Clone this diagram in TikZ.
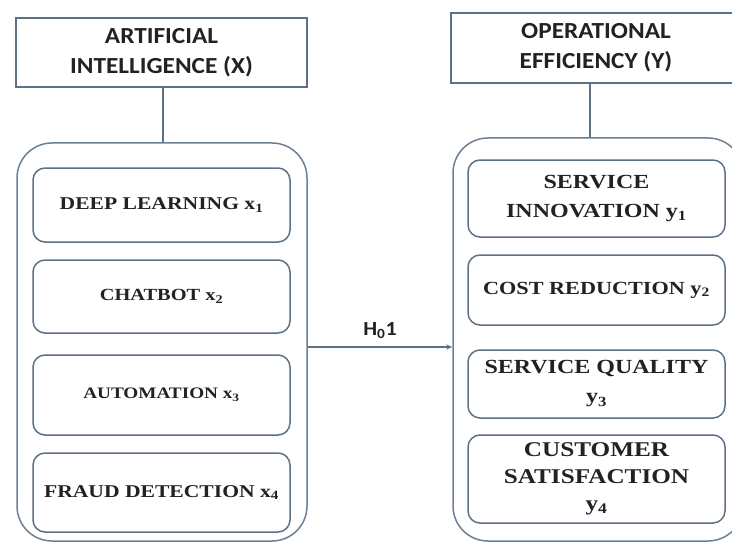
\documentclass[tikz,border=0pt]{standalone}
\usepackage{fontspec}
\usetikzlibrary{arrows.meta}
\newfontfamily\titlefont{Carlito}[FakeStretch=1.1]
\newfontfamily\boxfont{Liberation Serif}[FakeStretch=1.2]
\definecolor{edge}{HTML}{5E7184}
\definecolor{outeredge}{HTML}{6C8196}
\definecolor{ink}{HTML}{222222}
\tikzset{
  titlebox/.style={draw=edge, line width=1.6pt, fill=white, rectangle, inner sep=0pt,
    align=center, text=ink, font=\titlefont\bfseries\fontsize{23}{30}\selectfont},
  outerbox/.style={draw=outeredge, line width=1.5pt, rectangle, rounded corners=35pt, inner sep=0pt},
  itembox/.style={draw=edge, line width=1.5pt, fill=white, rectangle, rounded corners=12pt, inner sep=0pt,
    align=center, text=ink},
  conn/.style={draw=edge, line width=1.5pt},
}
\newcommand{\bx}[2]{\boxfont\bfseries\fontsize{#1}{#2}\selectfont}
\begin{document}
\begin{tikzpicture}[x=1pt,y=-1pt]
\clip (0,0) rectangle (732,543);
\useasboundingbox (0,0) rectangle (732,543);
\fill[white] (0,0) rectangle (732,543);

% titles
\node[titlebox, minimum width=291pt, minimum height=69pt] (LT) at (161.5,52.5) {ARTIFICIAL\\INTELLIGENCE (X)};
\node[titlebox, minimum width=290pt, minimum height=70pt] (RT) at (596,48) {OPERATIONAL\\EFFICIENCY (Y)};

% outer boxes
\node[outerbox, minimum width=290pt, minimum height=398pt] (LO) at (162,342) {};
\node[outerbox, minimum width=290pt, minimum height=403pt] (RO) at (598,339.5) {};

\draw[conn] (LT.south -| 163,0) -- (LO.north -| 163,0);
\draw[conn] (RT.south -| 590,0) -- (RO.north -| 590,0);

% left items
\node[itembox, minimum width=257pt, minimum height=74pt, font=\bx{18}{22}] (X1) at (161.5,205) {DEEP LEARNING x\textsubscript{1}};
\node[itembox, minimum width=257pt, minimum height=73pt, font=\bx{17}{21}] (X2) at (161.5,296.5) {CHATBOT x\textsubscript{2}};
\node[itembox, minimum width=257pt, minimum height=80pt, font=\bx{16}{20}] (X3) at (161.5,395) {AUTOMATION x\textsubscript{3}};
\node[itembox, minimum width=257pt, minimum height=79pt, font=\bx{18}{22}] (X4) at (161.5,492.5) {FRAUD DETECTION x\textsubscript{4}};

% right items
\node[itembox, minimum width=257pt, minimum height=77pt, font=\bx{20}{29}] (Y1) at (596.5,198.5) {SERVICE\\INNOVATION y\textsubscript{1}};
\node[itembox, minimum width=257pt, minimum height=70pt, font=\bx{18.5}{22}] (Y2) at (596.5,290) {COST REDUCTION y\textsubscript{2}};
\node[itembox, minimum width=257pt, minimum height=68pt, font=\bx{20}{29}] (Y3) at (596.5,384) {SERVICE QUALITY\\y\textsubscript{3}};
\node[itembox, minimum width=257pt, minimum height=88pt, font=\bx{21}{27}] (Y4) at (596.5,479) {CUSTOMER\\SATISFACTION\\y\textsubscript{4}};

% hypothesis arrow
\coordinate (A0) at (307,347);
\draw[conn, -{Stealth[length=6pt,width=5pt]}] (LO.east |- A0) -- node[above=4pt, text=ink, font=\titlefont\bfseries\fontsize{20}{20}\selectfont] (H) {H\textsubscript{0}1} (RO.west |- A0);
\end{tikzpicture}
\end{document}
